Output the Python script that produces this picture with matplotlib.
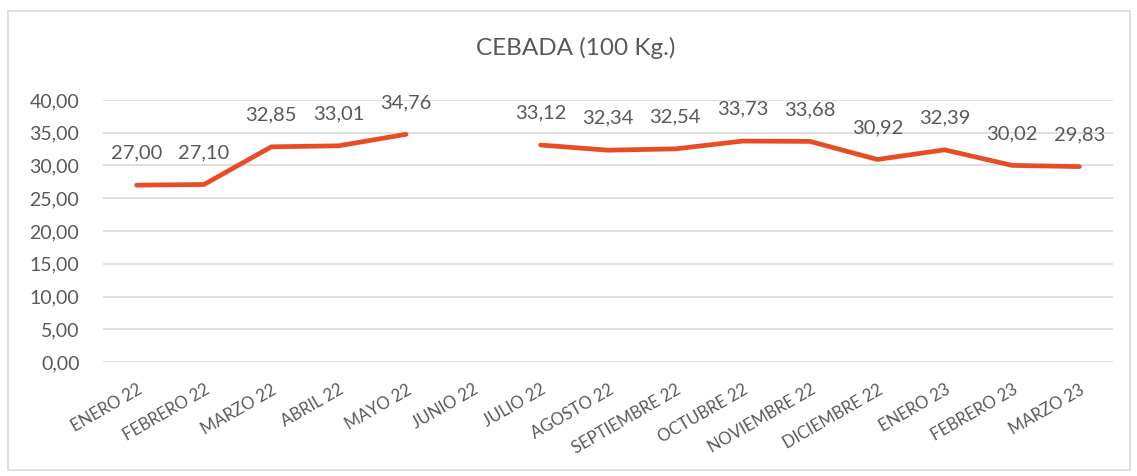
import numpy as np
import matplotlib
matplotlib.use("Agg")
import matplotlib.pyplot as plt
from matplotlib.patches import Rectangle

categories = ["ENERO 22", "FEBRERO 22", "MARZO 22", "ABRIL 22", "MAYO 22", "JUNIO 22",
              "JULIO 22", "AGOSTO 22", "SEPTIEMBRE 22", "OCTUBRE 22", "NOVIEMBRE 22",
              "DICIEMBRE 22", "ENERO 23", "FEBRERO 23", "MARZO 23"]
values = [27.00, 27.10, 32.85, 33.01, 34.76, np.nan, 33.12, 32.34, 32.54, 33.73,
          33.68, 30.92, 32.39, 30.02, 29.83]
yticks = [0, 5, 10, 15, 20, 25, 30, 35, 40]
title = "CEBADA (100 Kg.)"

plt.rcParams['font.family'] = ['Lato', 'DejaVu Sans']
text_color = "#595959"
line_color = "#E84C22"
grid_color = "#D9D9D9"

fig = plt.figure(figsize=(11.37, 4.76), dpi=100)
ax = fig.add_axes([103 / 1137, 1 - 362 / 476, 1010 / 1137, 262 / 476])

x = np.arange(len(categories))
ax.plot(x, values, color=line_color, linewidth=3.4, solid_capstyle='round', solid_joinstyle='round', zorder=3)

for xi, v in zip(x, values):
    if np.isnan(v):
        continue
    ax.annotate(f"{v:.2f}".replace(".", ","), (xi, v), xytext=(0, 23), textcoords='offset points',
                ha='center', va='center', fontsize=14.5, color=text_color)

ax.set_xlim(-0.5, len(categories) - 0.5)
ax.set_ylim(0, 40)
ax.set_yticks(yticks)
ax.set_yticklabels([f"{t:.2f}".replace(".", ",") for t in yticks], fontsize=14, color=text_color)
ax.set_xticks(x)
ax.set_xticklabels(categories, rotation=30, ha='right', rotation_mode='anchor', fontsize=12, color=text_color)
ax.tick_params(axis='both', length=0)
ax.tick_params(axis='y', pad=17)
ax.tick_params(axis='x', pad=14)
ax.grid(axis='y', color=grid_color, linewidth=1.2)
ax.set_axisbelow(True)
for s in ax.spines.values():
    s.set_visible(False)

fig.text(0.506, 0.9, title, ha='center', va='center', fontsize=17.5, color=text_color)

fig.patches.append(Rectangle((8 / 1137, 6 / 476), 1122 / 1137, 459 / 476, transform=fig.transFigure,
                             fill=False, edgecolor=grid_color, linewidth=1.2))

fig.savefig("out.png", dpi=100)
